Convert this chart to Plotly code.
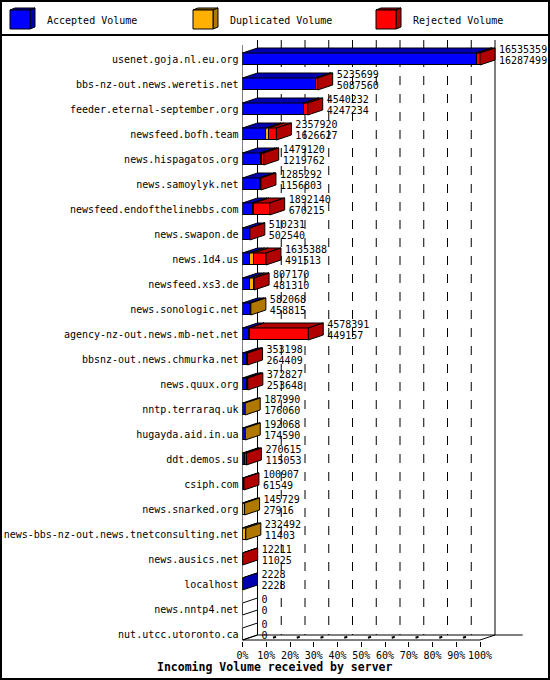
import plotly.graph_objects as go

# incoming volume per server (bytes)
servers = [
    "usenet.goja.nl.eu.org", "bbs-nz-out.news.weretis.net",
    "feeder.eternal-september.org", "newsfeed.bofh.team",
    "news.hispagatos.org", "news.samoylyk.net",
    "newsfeed.endofthelinebbs.com", "news.swapon.de", "news.1d4.us",
    "newsfeed.xs3.de", "news.sonologic.net",
    "agency-nz-out.news.mb-net.net", "bbsnz-out.news.chmurka.net",
    "news.quux.org", "nntp.terraraq.uk", "hugayda.aid.in.ua",
    "ddt.demos.su", "csiph.com", "news.snarked.org",
    "news-bbs-nz-out.news.tnetconsulting.net", "news.ausics.net",
    "localhost", "news.nntp4.net", "nut.utcc.utoronto.ca",
]
accepted = [16287499, 5087560, 4247234, 1626627, 1219762, 1156803, 670215,
            502540, 491513, 481310, 458815, 449157, 264409, 253648, 176060,
            174590, 115053, 61549, 27916, 11403, 11025, 2228, 0, 0]
duplicated = [20000, 8000, 25000, 200000, 120000, 60000, 130000, 1500,
              250000, 280000, 123253, 15000, 40000, 4000, 11930, 17478,
              5000, 0, 117813, 221089, 0, 0, 0, 0]
rejected = [227860, 140139, 267998, 531293, 139358, 68489, 1091925, 6191,
            893875, 45860, 0, 4114234, 48789, 115179, 0, 0, 150562, 39358,
            0, 0, 1186, 0, 0, 0]
tick_pct = [0, 10, 20, 30, 40, 50, 60, 70, 80, 90, 100]

W, H = 550, 680
FONT = "DejaVu Sans Mono"
X0_PX = 242.5          # pixel of 0%
X100_PX = 480.0        # pixel of 100%
PPP = (X100_PX - X0_PX) / 100   # pixels per percent
ROW0_PX = 59           # centre of first row
ROW_PX = 25
TOP_PX, BOT_PX = 35, 641
DX = 15 / PPP          # 3d depth in percent units
DY = 5 / ROW_PX        # 3d depth in row units
BW = 12 / ROW_PX       # bar thickness
FLOOR = (640 - ROW0_PX) / ROW_PX

front = ["#0000ff", "#ffb000", "#ff0000"]
dark = ["#0000b0", "#b07800", "#b00000"]
names = ["Accepted Volume", "Duplicated Volume", "Rejected Volume"]

n = len(servers)
rows = list(range(n))
totals = [a + d + r for a, d, r in zip(accepted, duplicated, rejected)]
vmax = max(totals)
segs = [[v / vmax * 100 for v in s] for s in (accepted, duplicated, rejected)]
tot_pct = [t / vmax * 100 for t in totals]

fig = go.Figure()

# front faces
for k in range(3):
    fig.add_trace(go.Bar(
        y=rows, x=[v if v > 0 else None for v in segs[k]],
        orientation="h", width=BW, name=names[k],
        marker=dict(color=front[k], line=dict(color="black", width=1)),
    ))


def poly(xs, ys, store):
    store[0].extend(xs + [xs[0], None])
    store[1].extend(ys + [ys[0], None])


# top faces, one polygon per segment
tops = {c: ([], []) for c in dark}
sides = {c: ([], []) for c in dark + ["white"]}
for i in rows:
    yt = i - BW / 2
    start = 0
    last = "white"
    for k in range(3):
        w = segs[k][i]
        if w <= 0:
            continue
        poly([start, start + w, start + w + DX, start + DX],
             [yt, yt, yt - DY, yt - DY], tops[dark[k]])
        start += w
        last = dark[k]
    xe = tot_pct[i]
    poly([xe, xe + DX, xe + DX, xe],
         [yt, yt - DY, yt + BW - DY, yt + BW], sides[last])

for c, (xs, ys) in list(tops.items()) + list(sides.items()):
    if not xs:
        continue
    fig.add_trace(go.Scatter(
        x=xs, y=ys, mode="lines", fill="toself", fillcolor=c,
        line=dict(color="black", width=1), hoverinfo="skip",
    ))

# value labels (total over accepted)
lab_x = [p + DX + 4 / PPP for p in tot_pct]
fig.add_trace(go.Scatter(
    x=lab_x, y=[i - 0.34 for i in rows], mode="text",
    text=[str(t) for t in totals], textposition="middle right",
    textfont=dict(family=FONT, size=10, color="black"), cliponaxis=False,
))
fig.add_trace(go.Scatter(
    x=lab_x, y=[i + 0.08 for i in rows], mode="text",
    text=[str(a) for a in accepted], textposition="middle right",
    textfont=dict(family=FONT, size=10, color="black"), cliponaxis=False,
))

shapes = []
wall_top = (40 - ROW0_PX) / ROW_PX
for p in tick_pct[1:-1]:
    shapes.append(dict(type="line", xref="x", yref="y", layer="below",
                       x0=p + DX, x1=p + DX, y0=wall_top, y1=FLOOR - DY,
                       line=dict(color="black", width=1, dash="dash")))
    # little marks on the floor
    shapes.append(dict(type="line", xref="x", yref="y",
                       x0=p + 0.45 * DX, x1=p + 0.65 * DX,
                       y0=FLOOR - 0.45 * DY, y1=FLOOR - 0.65 * DY,
                       line=dict(color="black", width=2)))
for x in (DX, 100 + DX):
    shapes.append(dict(type="line", xref="x", yref="y", layer="below",
                       x0=x, x1=x, y0=wall_top, y1=FLOOR - DY,
                       line=dict(color="black", width=1)))
shapes += [
    dict(type="line", xref="x", yref="y", x0=0, x1=0,
         y0=(45 - ROW0_PX) / ROW_PX, y1=FLOOR, line=dict(color="black", width=1)),
    dict(type="line", xref="x", yref="y", x0=0, x1=100, y0=FLOOR, y1=FLOOR,
         line=dict(color="black", width=1)),
    dict(type="line", xref="x", yref="y", x0=DX, x1=(522.7 - X0_PX) / PPP,
         y0=FLOOR - DY, y1=FLOOR - DY, line=dict(color="black", width=1)),
    dict(type="line", xref="x", yref="y", x0=0, x1=DX, y0=FLOOR, y1=FLOOR - DY,
         line=dict(color="black", width=1)),
    dict(type="line", xref="x", yref="y", x0=100, x1=100 + DX, y0=FLOOR,
         y1=FLOOR - DY, line=dict(color="black", width=1)),
]


def px(x):
    return x / W


def py(y):
    return 1 - y / H


def path(pts):
    return "M " + " L ".join("%f,%f" % (px(a), py(b)) for a, b in pts) + " Z"


# legend with little cubes
annotations = []
for k in range(3):
    lx = 10 + 183 * k
    shapes.append(dict(type="path", xref="paper", yref="paper",
                       path=path([(lx, 10), (lx + 5, 8), (lx + 25, 8), (lx + 20, 10)]),
                       fillcolor=dark[k], line=dict(color="black", width=1)))
    shapes.append(dict(type="path", xref="paper", yref="paper",
                       path=path([(lx + 20, 10), (lx + 25, 8), (lx + 25, 27), (lx + 20, 29)]),
                       fillcolor=dark[k], line=dict(color="black", width=1)))
    shapes.append(dict(type="rect", xref="paper", yref="paper",
                       x0=px(lx), x1=px(lx + 20), y0=py(29), y1=py(10),
                       fillcolor=front[k], line=dict(color="black", width=1)))
    annotations.append(dict(xref="paper", yref="paper", x=px(lx + 35), y=py(20),
                            text=names[k], showarrow=False, xanchor="left",
                            yanchor="middle",
                            font=dict(family=FONT, size=10, color="black")))

shapes.append(dict(type="line", xref="paper", yref="paper", x0=0, x1=1,
                   y0=py(35), y1=py(35), line=dict(color="black", width=2)))
shapes.append(dict(type="rect", xref="paper", yref="paper", x0=px(1), x1=px(549),
                   y0=py(679), y1=py(1), line=dict(color="black", width=2)))

annotations.append(dict(xref="paper", yref="paper", x=px(274), y=py(667),
                        text="<b>Incoming Volume received by server</b>",
                        showarrow=False, xanchor="center", yanchor="middle",
                        font=dict(family=FONT, size=11.5, color="black")))

fig.update_layout(
    template="none",
    width=W, height=H,
    margin=dict(l=0, r=0, t=0, b=0),
    paper_bgcolor="white", plot_bgcolor="white",
    barmode="stack", bargap=0, showlegend=False,
    shapes=shapes, annotations=annotations,
    xaxis=dict(domain=[X0_PX / W, 1], range=[0, (W - X0_PX) / PPP],
               tickvals=tick_pct, ticktext=["%d%%" % p for p in tick_pct],
               ticks="outside", ticklen=5, tickcolor="black", tickwidth=1,
               showgrid=False, zeroline=False, showline=False, automargin=False,
               tickfont=dict(family=FONT, size=10, color="black")),
    yaxis=dict(domain=[py(BOT_PX), py(TOP_PX)],
               range=[(BOT_PX - ROW0_PX) / ROW_PX, (TOP_PX - ROW0_PX) / ROW_PX],
               tickvals=rows, ticktext=servers, ticks="", ticklabelstandoff=3,
               showgrid=False, zeroline=False, showline=False, automargin=False,
               tickfont=dict(family=FONT, size=10, color="black")),
)

# the page body has a default margin, drop it so the chart sits at 0,0
fig.write_html("out.html", config={"displayModeBar": False},
               post_script="document.body.style.margin='0';")
